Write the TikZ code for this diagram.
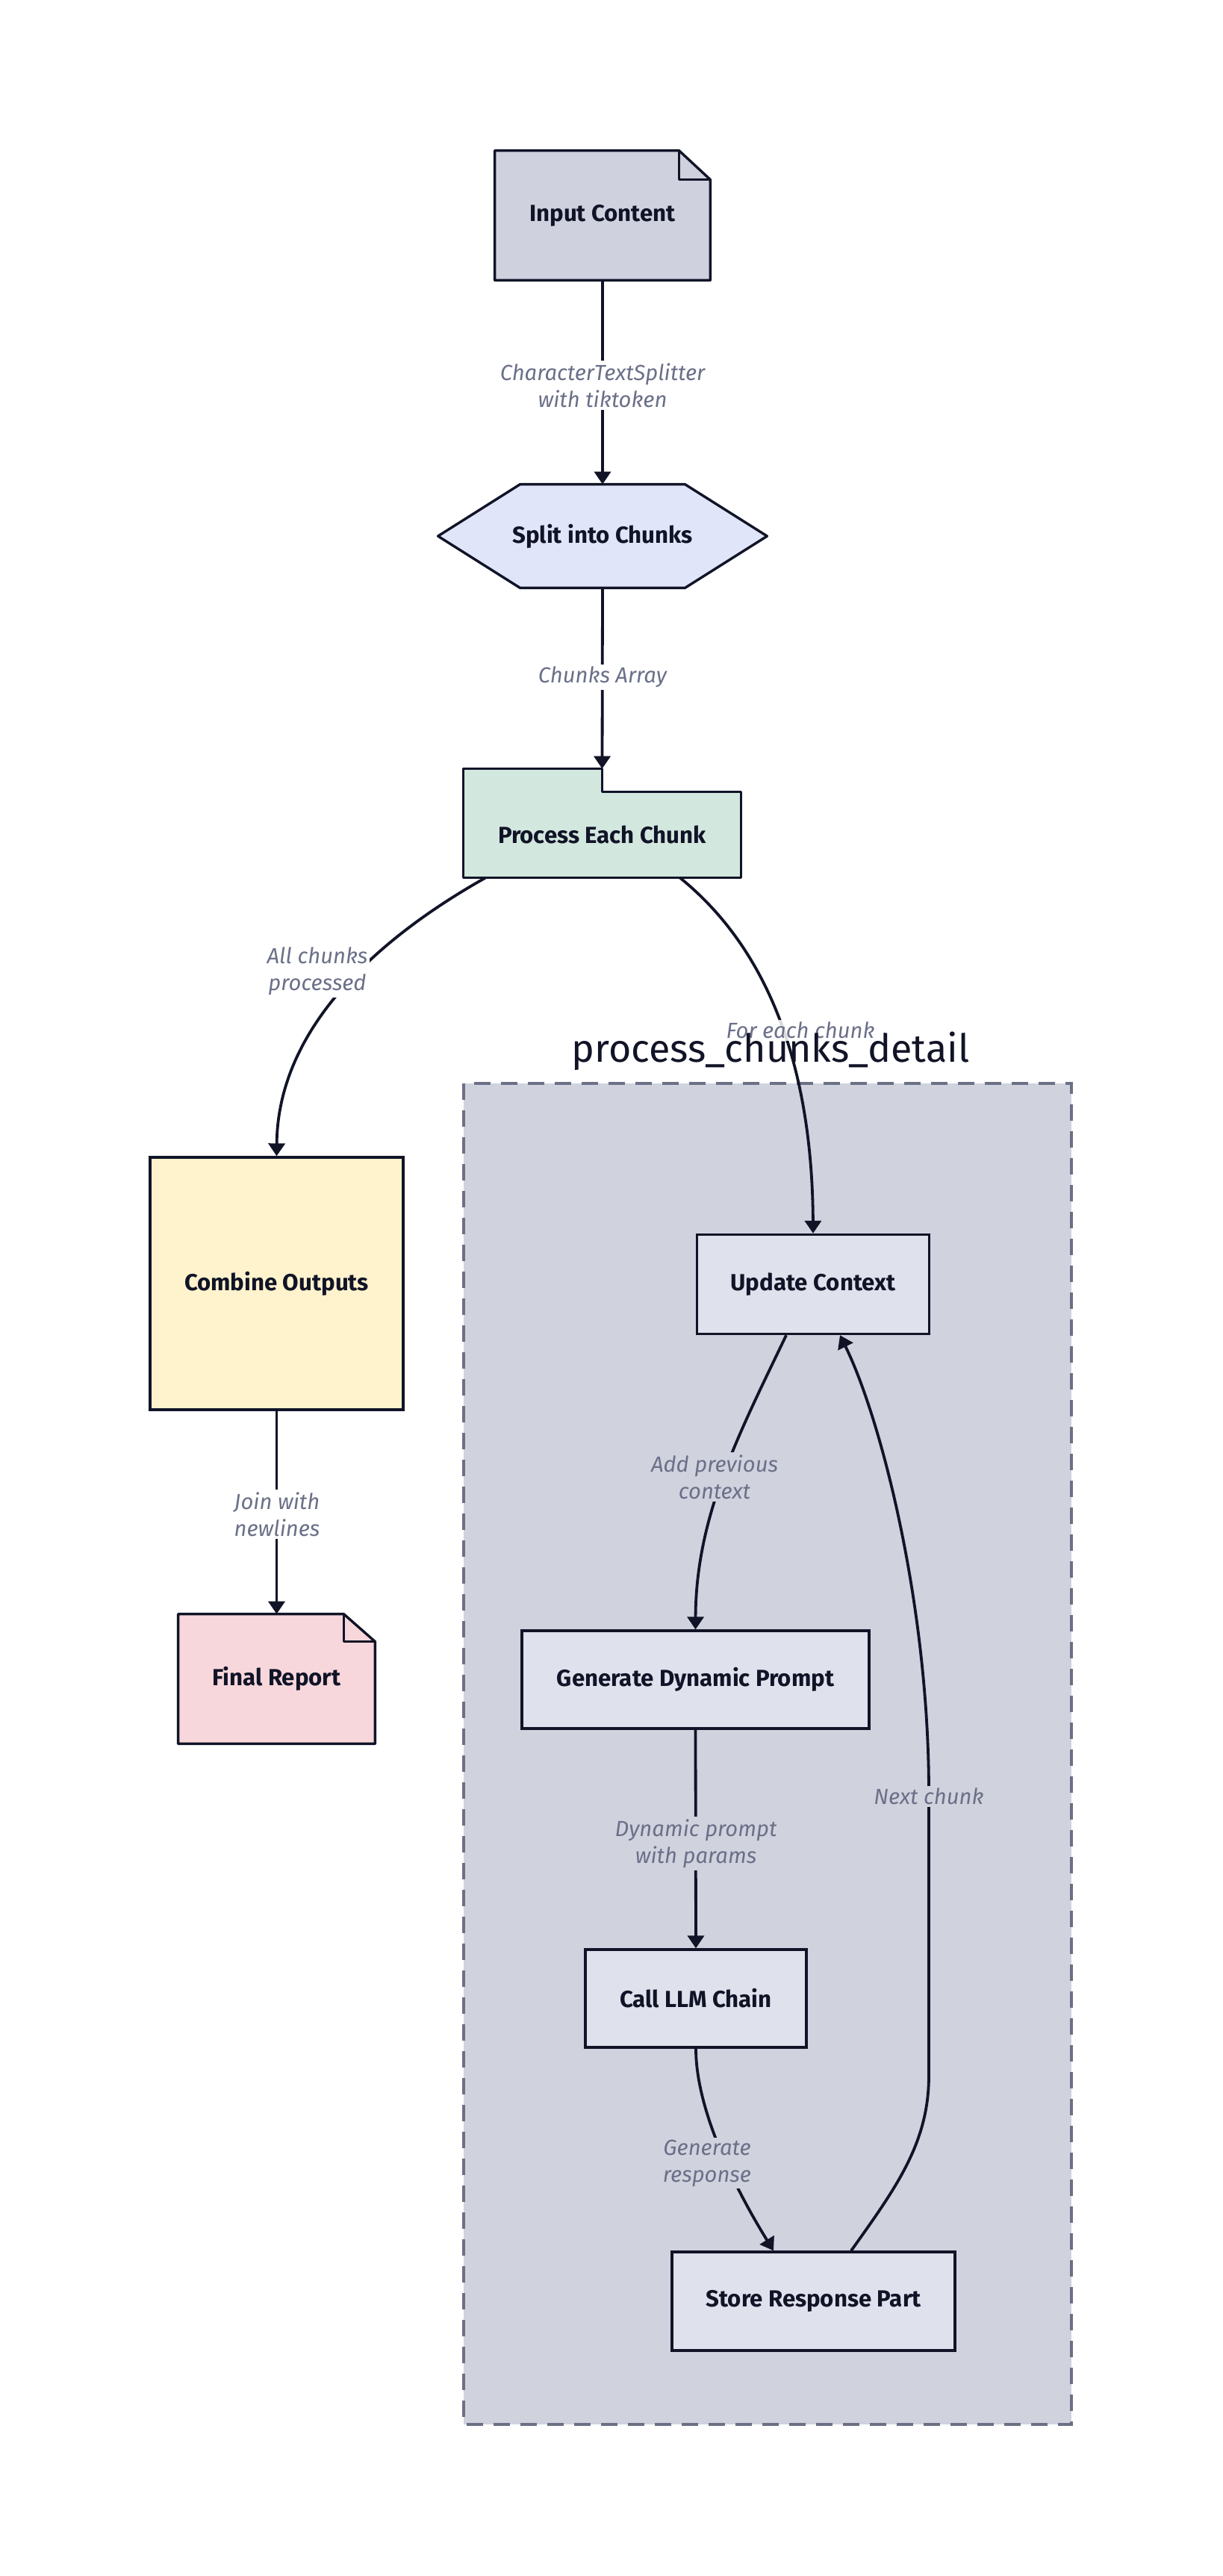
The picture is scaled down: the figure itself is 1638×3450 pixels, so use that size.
\documentclass[tikz,border=0pt]{standalone}
\usepackage{fontspec}
\setmainfont{Fira Sans}
\usetikzlibrary{arrows.meta}
\definecolor{ink}{HTML}{111427}
\definecolor{lblc}{HTML}{6B7088}
\definecolor{inpfill}{HTML}{CFD2DE}
\definecolor{splitfill}{HTML}{E0E5FA}
\definecolor{pecfill}{HTML}{D2E7DE}
\definecolor{combfill}{HTML}{FFF3CD}
\definecolor{finfill}{HTML}{F7D7DB}
\definecolor{subfill}{HTML}{D0D2DE}
\definecolor{subborder}{HTML}{6B7085}
\definecolor{innerfill}{HTML}{DFE1EC}
\pgfdeclarelayer{bg}
\pgfsetlayers{bg,main}
\tikzset{
  boxtext/.style={text=ink, inner sep=0pt, font=\bfseries\fontsize{15.6}{18}\selectfont},
  rectbox/.style={boxtext, draw=ink, line width=1.7pt},
  shapeline/.style={draw=ink, line width=1.7pt, line join=round},
  lbl/.style={text=lblc, align=center, font=\itshape\fontsize{14.6}{18}\selectfont, inner sep=1.5pt},
  conn/.style={draw=ink, line width=1.9pt, -{Triangle[length=8.5pt,width=11pt]}},
}
\begin{document}
\begin{tikzpicture}[x=0.5pt,y=-0.5pt]
\useasboundingbox (0,0) rectangle (1638,3450);
\begin{pgfonlayer}{bg}
\fill[white] (0,0) rectangle (1638,3450);
% subgraph
\draw[fill=subfill, draw=subborder, line width=2pt, dash pattern=on 11pt off 7pt] (621,1451) rectangle (1435,3247);
\end{pgfonlayer}

% nodes
\node[boxtext, minimum width=144pt, minimum height=86.5pt] (inp) at (807,288.5) {Input Content};
\node[boxtext, minimum width=220pt, minimum height=69pt] (split) at (807,718) {Split into Chunks};
\node[boxtext, minimum width=185.5pt, minimum height=57pt] (pec) at (806.5,1118) {Process Each Chunk};
\node[rectbox, fill=combfill, minimum width=169.5pt, minimum height=169pt] (comb) at (370.5,1719) {Combine Outputs};
\node[boxtext, minimum width=131.5pt, minimum height=86.5pt] (fin) at (370.5,2248.5) {Final Report};
\node[rectbox, fill=innerfill, minimum width=155.5pt, minimum height=66.5pt] (uc) at (1089,1720) {Update Context};
\node[rectbox, fill=innerfill, minimum width=232.5pt, minimum height=65.5pt] (gdp) at (931.5,2249.5) {Generate Dynamic Prompt};
\node[rectbox, fill=innerfill, minimum width=148pt, minimum height=65.5pt] (llm) at (932,2676.5) {Call LLM Chain};
\node[rectbox, fill=innerfill, minimum width=189.5pt, minimum height=66pt] (srp) at (1089.5,3082) {Store Response Part};

% custom shapes
\begin{pgfonlayer}{bg}
\draw[shapeline, fill=inpfill] (inp.south west) -- (inp.south east) -- ([yshift=-19.5pt]inp.north east) -- ([xshift=-21pt]inp.north east) -- (inp.north west) -- cycle;
\draw[shapeline] ([xshift=-21pt]inp.north east) -- ([xshift=-21pt,yshift=-19.5pt]inp.north east) -- ([yshift=-19.5pt]inp.north east);
\draw[shapeline, fill=splitfill] (split.west) -- ([xshift=55pt]split.north west) -- ([xshift=-55pt]split.north east) -- (split.east) -- ([xshift=-55pt]split.south east) -- ([xshift=55pt]split.south west) -- cycle;
\draw[shapeline, fill=pecfill] (pec.south west) -- (pec.south east) -- (pec.north east) -- (pec.north) -- ([yshift=15.5pt]pec.north) -- ([yshift=15.5pt]pec.north west) -- cycle;
\draw[shapeline, fill=finfill] (fin.south west) -- (fin.south east) -- ([yshift=-18.5pt]fin.north east) -- ([xshift=-21pt]fin.north east) -- (fin.north west) -- cycle;
\draw[shapeline] ([xshift=-21pt]fin.north east) -- ([xshift=-21pt,yshift=-18.5pt]fin.north east) -- ([yshift=-18.5pt]fin.north east);
\end{pgfonlayer}

\coordinate (pectop) at ([yshift=15.5pt]pec.north);

% connectors
\draw[conn] (inp.south) -- (split.north);
\draw[conn] (split.south) -- (pectop);
\draw[conn] ([xshift=-78pt]pec.south) .. controls (500,1260) and (372,1380) .. (comb.north);
\draw[conn] ([xshift=52pt]pec.south) .. controls (1040,1280) and (1088,1450) .. (uc.north);
\draw[conn] (comb.south) -- (fin.north);
\draw[conn] ([xshift=-18pt]uc.south) .. controls (990,1920) and (932,2030) .. (gdp.north);
\draw[conn] (gdp.south) -- (llm.north);
\draw[conn] (llm.south) .. controls (932,2830) and (990,2940) .. ([xshift=-26.75pt]srp.north);
\draw[conn] ([xshift=25.25pt]srp.north) .. controls (1200,2930) and (1244,2870) .. (1244,2780) -- (1244,2400) .. controls (1244,2150) and (1180,1900) .. ([xshift=18pt]uc.south);

% edge labels
\node[lbl, fill=white] (l1) at (807,516) {CharacterTextSplitter\\with tiktoken};
\node[lbl, fill=white] (l2) at (807,907) {Chunks Array};
\node[lbl, fill=white] (l3) at (425,1301) {All chunks\\processed};
\node[lbl, fill=white, fill opacity=0.85, text opacity=1] (l4) at (1072,1380) {For each chunk};
\node[lbl, fill=white] (l5) at (371,2028) {Join with\\newlines};
\node[lbl, fill=subfill] (l6) at (957,1978) {Add previous\\context};
\node[lbl, fill=subfill] (l7) at (932,2469) {Dynamic prompt\\with params};
\node[lbl, fill=subfill] (l8) at (947,2897) {Generate\\response};
\node[lbl, fill=subfill] (l9) at (1244,2406) {Next chunk};

% subgraph title
\node[text=ink, inner sep=0pt, font=\fontsize{26}{30}\selectfont] (title) at (1032,1408) {process\_chunks\_detail};
\end{tikzpicture}
\end{document}
